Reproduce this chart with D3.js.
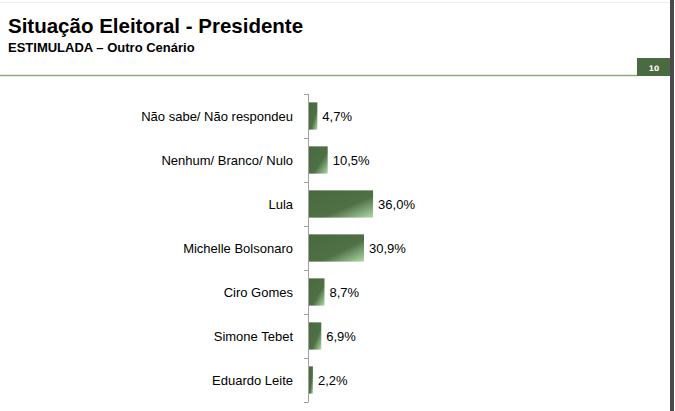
<!DOCTYPE html>
<html><head><meta charset="utf-8">
<script src="https://cdn.jsdelivr.net/npm/d3@7"></script>
<style>html,body{margin:0;padding:0;background:#fff;overflow:hidden}</style>
</head><body>
<svg id="c" width="675" height="411"></svg>
<script>
const categories = ["Não sabe/ Não respondeu","Nenhum/ Branco/ Nulo","Lula","Michelle Bolsonaro","Ciro Gomes","Simone Tebet","Eduardo Leite"];
const values = [4.7, 10.5, 36.0, 30.9, 8.7, 6.9, 2.2];
const valueLabels = ["4,7%","10,5%","36,0%","30,9%","8,7%","6,9%","2,2%"];
const title = "Situação Eleitoral - Presidente";
const subtitle = "ESTIMULADA – Outro Cenário";
const pageNumber = "10";

const svg = d3.select("#c");
const font = "'Liberation Sans', Arial, sans-serif";

const defs = svg.append("defs");
const g = defs.append("linearGradient").attr("id","barGrad")
  .attr("x1",0).attr("y1",0).attr("x2",1).attr("y2",1);
g.append("stop").attr("offset","0").attr("stop-color","#49693f");
g.append("stop").attr("offset","0.6").attr("stop-color","#4f7045");
g.append("stop").attr("offset","1").attr("stop-color","#b0dba8");

// header
svg.append("line").attr("x1",0).attr("x2",675).attr("y1",2.5).attr("y2",2.5).attr("stroke","#eeeeee").attr("stroke-width",1);
svg.append("text").attr("x",8).attr("y",33).attr("font-family",font).attr("font-weight","bold")
  .attr("font-size",20.5).attr("fill","#000").text(title);
svg.append("text").attr("x",8).attr("y",51.5).attr("font-family",font).attr("font-weight","bold")
  .attr("font-size",13).attr("fill","#000").text(subtitle);
svg.append("line").attr("x1",0).attr("x2",637).attr("y1",75.5).attr("y2",75.5).attr("stroke","#8cab78").attr("stroke-width",1.6);
svg.append("rect").attr("x",637).attr("y",58).attr("width",33).attr("height",18).attr("fill","#4a6a40");
svg.append("text").attr("x",654).attr("y",70.5).attr("text-anchor","middle").attr("font-family","'DejaVu Sans', sans-serif")
  .attr("font-weight","bold").attr("font-size",7.5).attr("fill","#fff").text(pageNumber);
svg.append("rect").attr("x",670).attr("y",0).attr("width",4).attr("height",411).attr("fill","#4a4a4a");

// scales
const y = d3.scaleBand().domain(categories).range([94,402]).paddingInner(0.38).paddingOuter(0.19);
const x = d3.scaleLinear().domain([0,100]).range([309,487]);
const step = y.step();

// bars
svg.append("g").selectAll("rect").data(categories).join("rect")
  .attr("x", x(0))
  .attr("y", d => y(d))
  .attr("width", (d,i) => x(values[i]) - x(0))
  .attr("height", y.bandwidth())
  .attr("fill","url(#barGrad)");

// axis
const edges = categories.map(d => y(d) - step*y.paddingInner()/2).concat([402]);
const ax = svg.append("g");
ax.append("line").attr("x1",308.5).attr("x2",308.5).attr("y1",94).attr("y2",402).attr("stroke","#a0a0a0").attr("stroke-width",1);
ax.selectAll("line.t").data(edges).join("line").attr("class","t")
  .attr("x1",304).attr("x2",308.5).attr("y1",d=>Math.round(d)+0.5).attr("y2",d=>Math.round(d)+0.5)
  .attr("stroke","#a0a0a0").attr("stroke-width",1);

// category labels
svg.append("g").selectAll("text").data(categories).join("text")
  .attr("x",293).attr("y", d => y(d) + y.bandwidth()/2 + 4.5)
  .attr("text-anchor","end").attr("font-family",font).attr("font-size",13).attr("fill","#000")
  .text(d => d);

// value labels
svg.append("g").selectAll("text").data(categories).join("text")
  .attr("x",(d,i) => x(values[i]) + 5).attr("y", d => y(d) + y.bandwidth()/2 + 4.5)
  .attr("font-family",font).attr("font-size",13).attr("fill","#000")
  .text((d,i) => valueLabels[i]);
</script>
</body></html>
